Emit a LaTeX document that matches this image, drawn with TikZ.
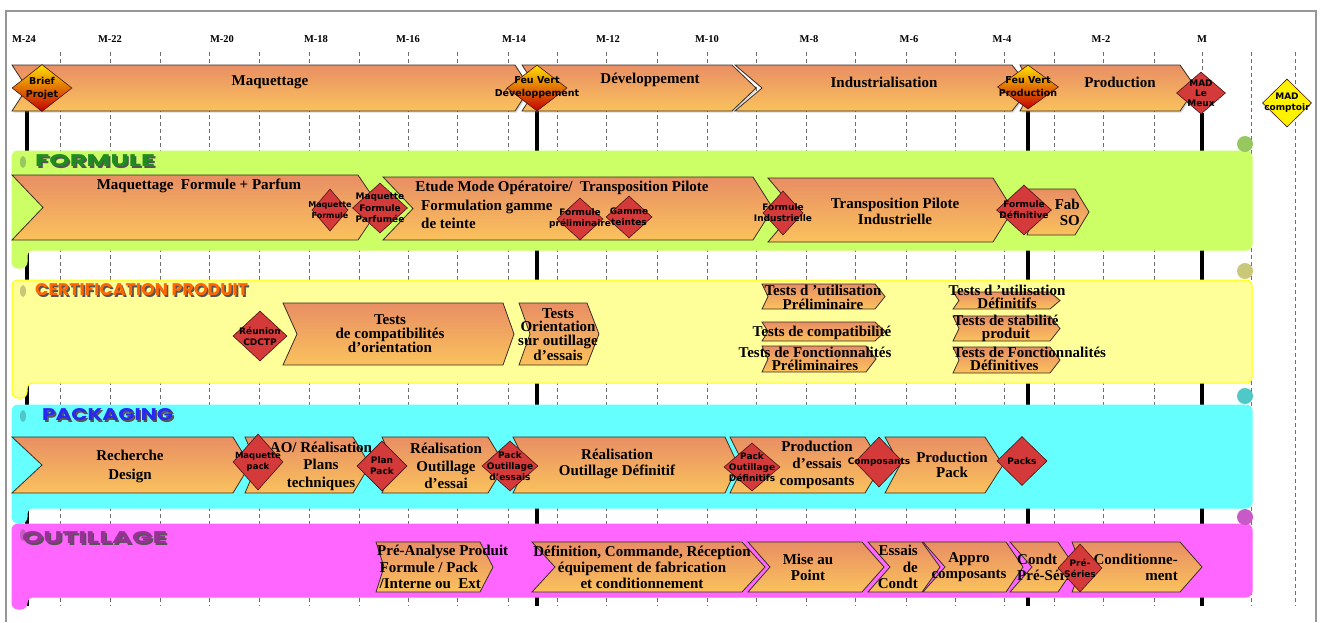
\documentclass[tikz,border=0pt]{standalone}
\usepackage{fontspec}
\usepackage{graphicx}
\setmainfont{Liberation Serif}
\newfontfamily\msfont{DejaVu Sans}
\newfontfamily\bandfont{Poppins}
\usetikzlibrary{shapes.geometric,shadows}

\definecolor{chevtop}{RGB}{232,142,100}
\definecolor{chevbot}{RGB}{250,194,92}
\definecolor{chevline}{RGB}{60,45,35}
\definecolor{redms}{RGB}{212,58,58}
\definecolor{redmsline}{RGB}{70,20,20}
\definecolor{gradtop}{RGB}{255,225,0}
\definecolor{gradmid}{RGB}{255,110,0}
\definecolor{gradbot}{RGB}{195,0,0}
\definecolor{formfill}{RGB}{204,255,102}
\definecolor{formcurl}{RGB}{150,200,95}
\definecolor{certfill}{RGB}{255,255,153}
\definecolor{certedge}{RGB}{255,255,0}
\definecolor{certcurl}{RGB}{200,200,120}
\definecolor{packfill}{RGB}{102,255,255}
\definecolor{packcurl}{RGB}{80,200,200}
\definecolor{outfill}{RGB}{255,102,255}
\definecolor{outcurl}{RGB}{200,90,200}
\definecolor{formtxt}{RGB}{30,140,30}
\definecolor{certtxt}{RGB}{255,102,0}
\definecolor{packtxt}{RGB}{40,40,240}
\definecolor{outtxt}{RGB}{150,50,150}
\definecolor{lblshadow}{RGB}{85,85,85}
\definecolor{gridcol}{RGB}{110,110,110}
\definecolor{framecol}{RGB}{150,150,150}

% chevron: [style]{left x}{top-right x}{top y}{bottom y}{notch depth}{point depth}
\newcommand\chev[7][chev]{%
  \path[#1] (#2,#4) -- (#3,#4) -- ({#3+#7},{(#4+#5)/2}) -- (#3,#5) -- (#2,#5)
    -- ({#2+#6},{(#4+#5)/2}) -- cycle;}

% milestone diamond: {shape style}{name}{x}{y}{width}{height}{text style}{text}
\newcommand\mile[8]{%
  \node[#1, minimum width=#5pt, minimum height=#6pt] (#2) at (#3,#4) {};
  \node[#7] (#2-t) at (#3,#4) {#8};}

% swimlane scroll: {fill}{edge}{curl}{top y}{bottom y}{tail y}{curl y}
\newcommand\lane[7]{%
  \path[fill=#1, draw=#2, line width=1pt, rounded corners=6pt]
    (27,#5) -- (27,#6) -- (12,#6) -- (12,#4) -- (1252,#4) -- (1252,#5) -- cycle;
  \fill[#3] (1245,#7) circle (8pt);
  \fill[#3] (23,{#4+11}) ellipse (3pt and 6pt);}

% lane title with shadow: {name}{left x}{y}{colour}{width}{text}
\newcommand\lanetitle[6]{%
  \node[lanelbl, text=lblshadow] (#1-s) at ({#2+1.6},{#3+1.6}) {\resizebox{#5pt}{12pt}{#6}};
  \node[lanelbl, text=#4] (#1) at (#2,#3) {\resizebox{#5pt}{12pt}{#6}};}

\tikzset{
  chev/.style={top color=chevtop, bottom color=chevbot, draw=chevline, line width=0.8pt},
  topchev/.style={chev, drop shadow={shadow xshift=1.5pt, shadow yshift=-1.5pt, opacity=0.3}},
  msred/.style={shape=diamond, inner sep=0pt, fill=redms, draw=redmsline, line width=0.6pt},
  msgrad/.style={shape=diamond, inner sep=0pt, top color=gradtop, middle color=gradmid,
    bottom color=gradbot, draw=redmsline, line width=0.6pt},
  msyel/.style={shape=diamond, inner sep=0pt, fill=yellow, draw=redmsline, line width=0.6pt},
  mtext/.style={font=\msfont\bfseries\fontsize{9}{#1}\selectfont, align=center, inner sep=0pt},
  mtext/.default=11,
  mtextbig/.style={font=\msfont\bfseries\fontsize{9.5}{13}\selectfont, align=center, inner sep=0pt},
  task/.style={font=\bfseries\fontsize{15}{#1}\selectfont, align=center, inner sep=0pt},
  task/.default=16,
  month/.style={font=\bfseries\fontsize{10.5}{11}\selectfont, inner sep=0pt},
  lanelbl/.style={font=\bandfont\bfseries, anchor=west, inner sep=0pt},
  gridline/.style={draw=gridcol, dash pattern=on 4pt off 3pt, line width=0.8pt},
  msline/.style={draw=black, line width=3.5pt},
}

\begin{document}
\begin{tikzpicture}[x=1pt, y=-1pt]
\useasboundingbox[fill=white] (0,0) rectangle (1321,622);

% frame
\draw[framecol, line width=2pt] (6,622) -- (6,11) -- (1316,11) -- (1316,622);

% month scale
\foreach \x/\m [count=\i] in {24/M-24,110/M-22,222/M-20,316/M-18,408/M-16,514/M-14,
    608/M-12,707/M-10,809/M-8,909/M-6,1002/M-4,1101/M-2,1202/M}
  \node[month] (month\i) at (\x,39) {\m};

% dashed grid
\foreach \x [count=\i] in {60,110,160,209,259,309,359,408,457,508,557,606,657,707,756,
    806,855,906,955,1004,1054,1103,1154,1202,1251,1295}
  \draw[gridline] (\x,52) coordinate (grid\i) -- (\x,606);

% milestone lines
\foreach \x/\y in {27/111,537/111,1028/108,1202/113}
  \draw[msline] (\x,\y) -- (\x,606);

% phases
\chev[topchev]{12}{515}{65}{111}{15}{15}
\chev[topchev]{522}{732}{65}{111}{15}{24}
\chev[topchev]{735}{1012}{65}{111}{27}{18}
\chev[topchev]{1020}{1180}{65}{111}{12}{16}
\node[task] (ph1) at (270,82) {Maquettage};
\node[task] (ph2) at (650,80) {Développement};
\node[task] (ph3) at (884,82) {Industrialisation};
\node[task] (ph4) at (1120,82) {Production};

\mile{msgrad}{brief}{42}{88}{60}{47}{mtextbig}{Brief\\Projet}
\mile{msgrad}{fvdev}{537}{88}{60}{46}{mtextbig}{Feu Vert\\Développement}
\mile{msgrad}{fvprod}{1028}{87}{61}{44}{mtextbig}{Feu Vert\\Production}
\mile{msred}{madmeux}{1201}{93}{49}{42}{mtext=10}{MAD\\Le\\Meux}
\mile{msyel}{madcomp}{1287}{103}{49}{48}{mtext}{MAD\\comptoir}

% ---------- FORMULE ----------
\lane{formfill}{formfill}{formcurl}{151}{250}{268}{144}
\lanetitle{lformule}{35}{161}{formtxt}{120}{FORMULE}

\chev{12}{358}{175}{240}{31}{22}
\chev{383}{753}{177}{240}{30}{20}
\chev{768}{993}{178}{242}{27}{20}
\chev{1027}{1075}{189}{235}{8}{14}
\node[task] (fmfp) at (199,186) {Maquettage\ \ Formule + Parfum};
\node[task] (fet1) at (562,188) {Etude Mode Opératoire/\ \ Transposition Pilote};
\node[task=18, align=left, anchor=west] (fet2) at (421,214) {Formulation gamme\\de teinte};
\node[task] (ftpi) at (895,211) {Transposition Pilote\\Industrielle};
\node[task, align=right, anchor=east] (ffab) at (1080,212) {Fab\\SO};

\mile{msred}{mqf}{330}{210}{36}{42}{mtext}{\fontsize{8}{11}\selectfont Maquette\\\fontsize{8}{11}\selectfont Formule}
\mile{msred}{mqfp}{380}{208}{55}{50}{mtext=11.5}{Maquette\\Formule\\Parfumée}
\mile{msred}{fprel}{580}{219}{46}{42}{mtext}{Formule\\préliminaire}
\mile{msred}{gteint}{629}{217}{46}{42}{mtext}{Gamme\\teintes}
\mile{msred}{find}{783}{213}{40}{44}{mtext}{Formule\\Industrielle}
\mile{msred}{fdef}{1024}{210}{55}{50}{mtext}{Formule\\Définitive}

% ---------- CERTIFICATION PRODUIT ----------
\lane{certfill}{certedge}{certcurl}{280}{383}{398}{271}
\lanetitle{lcert}{35}{290}{certtxt}{213}{CERTIFICATION PRODUIT}

\chev{283}{503}{303}{365}{14}{11}
\chev{519}{587}{303}{365}{11}{12}
\chev{762}{875}{284}{309}{6}{10}
\chev{762}{875}{322}{341}{6}{10}
\chev{762}{866}{346}{372}{6}{10}
\chev{953}{1050}{292}{309}{6}{10}
\chev{953}{1050}{316}{341}{6}{10}
\chev{953}{1050}{347}{373}{6}{10}
\node[task=14] (ctco) at (390,334) {Tests\\de compatibilités\\d’orientation};
\node[task=13.7] (ctor) at (558,334.5) {Tests\\Orientation\\sur outillage\\d’essais};
\node[task=14] (ctup) at (823,297) {Tests d ’utilisation\\Préliminaire};
\node[task] (ctc) at (822,333) {Tests de compatibilité};
\node[task=13] (ctfp) at (815,358.5) {Tests de Fonctionnalités\\Préliminaires};
\node[task=13] (ctud) at (1007,296.5) {Tests d ’utilisation\\Définitifs};
\node[task=13] (ctsp) at (1006,328.5) {Tests de stabilité\\produit};
\node[task=12.5, align=left, anchor=west] (ctfd) at (953,359) {Tests de Fonctionnalités\\\hspace*{17pt}Définitives};

\mile{msred}{cdctp}{260}{336}{54}{50}{mtext}{Réunion\\CDCTP}

% ---------- PACKAGING ----------
\lane{packfill}{packfill}{packcurl}{405}{508}{523}{396}
\lanetitle{lpack}{42}{415}{packtxt}{131}{PACKAGING}

\chev{12}{233}{437}{493}{30}{17}
\chev{245}{353}{437}{493}{12}{17}
\chev{382}{488}{437}{493}{12}{17}
\chev{513}{725}{437}{493}{14}{13}
\chev{730}{865}{437}{493}{14}{17}
\chev{885}{985}{437}{493}{15}{18}
\node[task=19] (prd) at (130,466) {Recherche\\Design};
\node[task=17.5] (pao) at (321,466) {AO/ Réalisation\\Plans\\techniques};
\node[task=17.5] (proe) at (446,466) {Réalisation\\Outillage\\d’essai};
\node[task] (prod) at (617,464) {Réalisation\\Outillage Définitif};
\node[task=17] (ppec) at (817,465) {Production\\d’essais\\composants};
\node[task=15] (ppp) at (952,464.5) {Production\\Pack};

\mile{msred}{mqpack}{258}{462}{50}{56}{mtext}{\fontsize{8.5}{11}\selectfont Maquette\\\fontsize{8.5}{11}\selectfont pack}
\mile{msred}{planpack}{382}{466}{50}{50}{mtext}{Plan\\Pack}
\mile{msred}{poe}{510}{466}{56}{50}{mtext}{Pack\\Outillage\\d’essais}
\mile{msred}{pod}{752}{467}{56}{48}{mtext}{Pack\\Outillage\\Définitifs}
\mile{msred}{comp}{879}{462}{48}{50}{mtext}{Composants}
\mile{msred}{packs}{1022}{461}{50}{49}{mtext}{Packs}

% ---------- OUTILLAGE ----------
\lane{outfill}{outfill}{outcurl}{524}{597}{609}{517}
\lanetitle{lout}{22}{538}{outtxt}{145}{OUTILLAGE}

\chev{376}{480}{542}{592}{8}{13}
\chev{532}{742}{542}{592}{23}{23}
\chev{748}{862}{542}{592}{22}{22}
\chev{868}{922}{542}{592}{22}{18}
\chev{923}{1006}{542}{592}{22}{17}
\chev{1010}{1058}{542}{592}{22}{17}
\chev{1072}{1180}{542}{592}{10}{22}
\node[task=16.5, align=left, anchor=west] (opa) at (377,567) {Pré-Analyse Produit\\\,Formule / Pack\\\,/Interne ou\ \ Ext};
\node[task] (odef) at (642,567) {Définition, Commande, Réception\\équipement de fabrication\\et conditionnement};
\node[task] (omap) at (808,567) {Mise au\\Point};
\node[task=16.5, align=right, anchor=east] (oedc) at (918,567) {Essais\\de\\Condt};
\node[task] (oappro) at (969,567) {Appro\\composants};
\node[task, align=left, anchor=west] (ocps) at (1017,567) {Condt\\Pré-Séries};
\node[task, align=right, anchor=east] (ocond) at (1178,567) {Conditionne-\\ment};

\mile{msred}{preser}{1080}{568}{44}{48}{mtext}{Pré-\\Séries}
\end{tikzpicture}
\end{document}
